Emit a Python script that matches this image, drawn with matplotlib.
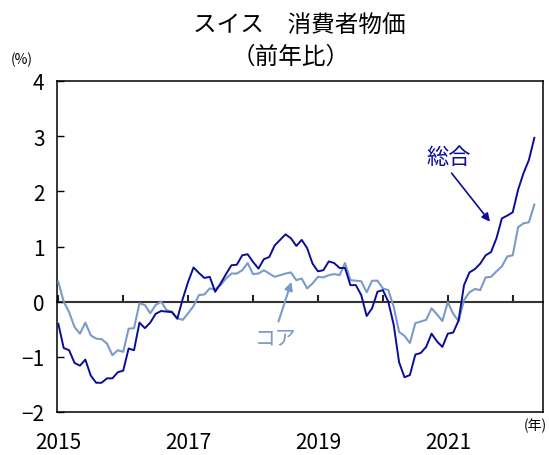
import numpy as np
import pandas as pd
import matplotlib
matplotlib.use("Agg")
import matplotlib.pyplot as plt

plt.rcParams['font.family'] = ['Noto Sans CJK JP', 'DejaVu Sans']

# monthly y/y change, Jan 2015 - May 2022
headline = [
    -0.40, -0.84, -0.88, -1.11, -1.16, -1.05, -1.34, -1.47, -1.47, -1.39, -1.39, -1.28,
    -1.25, -0.85, -0.88, -0.38, -0.48, -0.38, -0.22, -0.17, -0.18, -0.19, -0.31, 0.05,
    0.36, 0.62, 0.52, 0.43, 0.45, 0.18, 0.33, 0.50, 0.66, 0.67, 0.84, 0.86,
    0.72, 0.60, 0.77, 0.81, 1.02, 1.12, 1.22, 1.15, 1.01, 1.12, 0.97, 0.69,
    0.55, 0.57, 0.73, 0.70, 0.61, 0.61, 0.30, 0.30, 0.12, -0.26, -0.12, 0.18,
    0.21, 0.00, -0.42, -1.10, -1.37, -1.33, -0.96, -0.93, -0.82, -0.58, -0.72, -0.82,
    -0.58, -0.56, -0.34, 0.30, 0.53, 0.59, 0.69, 0.84, 0.90, 1.15, 1.51, 1.56,
    1.62, 2.03, 2.33, 2.57, 2.97,
]
core = [
    0.36, 0.00, -0.19, -0.46, -0.58, -0.38, -0.61, -0.67, -0.68, -0.76, -0.97, -0.88,
    -0.91, -0.49, -0.48, -0.03, -0.06, -0.21, -0.06, 0.00, -0.15, -0.18, -0.30, -0.33,
    -0.21, -0.08, 0.12, 0.13, 0.24, 0.22, 0.30, 0.42, 0.51, 0.51, 0.57, 0.70,
    0.50, 0.51, 0.57, 0.51, 0.45, 0.48, 0.51, 0.53, 0.39, 0.42, 0.24, 0.33,
    0.45, 0.44, 0.48, 0.50, 0.48, 0.70, 0.39, 0.38, 0.37, 0.17, 0.38, 0.38,
    0.24, 0.21, -0.09, -0.55, -0.62, -0.75, -0.39, -0.36, -0.33, -0.12, -0.23, -0.35,
    -0.01, -0.22, -0.35, 0.03, 0.17, 0.23, 0.21, 0.44, 0.45, 0.55, 0.64, 0.82,
    0.84, 1.35, 1.42, 1.44, 1.76,
]
months = pd.date_range('2015-01-01', periods=len(headline), freq='MS')
label_years = [2015, 2017, 2019, 2021]

dark = '#0c0c9a'
light = '#7a9bc8'

x = np.arange(len(months))
jan = x[months.month == 1]
jan_years = months.year[months.month == 1]

fig = plt.figure(figsize=(5.49, 4.56), dpi=100)
ax = fig.add_axes([57 / 549, 1 - 413 / 456, 486 / 549, 331 / 456])

ax.plot(x, core, color=light, lw=1.5, zorder=3)
ax.plot(x, headline, color=dark, lw=1.4, zorder=4)

ax.set_xlim(-0.24, 89.6)
ax.set_ylim(-2, 4)
ax.set_yticks(range(-2, 5))
ax.tick_params(axis='y', direction='in', length=5, width=1, pad=9, labelsize=15)

# year labels under the frame, tick marks on the zero line
ax.set_xticks([jan[list(jan_years).index(y)] for y in label_years])
ax.set_xticklabels([str(y) for y in label_years])
ax.tick_params(axis='x', length=0, pad=14, labelsize=15)

zero = ax.secondary_xaxis(0, transform=ax.transData)
zero.set_xticks(jan)
zero.tick_params(axis='x', direction='in', length=5, width=1.5, labelbottom=False,
                 color='#222222')
zero.spines['bottom'].set_linewidth(1.5)
zero.spines['bottom'].set_color('#333333')

for s in ax.spines.values():
    s.set_linewidth(1.1)

fig.text(0.545, 0.945, 'スイス　消費者物価', ha='center', va='center', fontsize=17)
fig.text(0.53, 0.875, '（前年比）', ha='center', va='center', fontsize=17)
fig.text(0.04, 0.868, '(%)', ha='center', va='center', fontsize=10)
ax.text(0.985, -0.04, '(年)', transform=ax.transAxes, ha='center', va='center', fontsize=10)

ax.text(72.2, 2.64, '総合', color=dark, fontsize=16, ha='center', va='center')
ax.annotate('', xy=(79.8, 1.45), xytext=(72.7, 2.33),
            arrowprops=dict(arrowstyle='-|>', color=dark, lw=1.2, mutation_scale=12,
                            shrinkA=0, shrinkB=0))
ax.text(40.2, -0.65, 'コア', color=light, fontsize=15, ha='center', va='center')
ax.annotate('', xy=(43.1, 0.36), xytext=(40.7, -0.36),
            arrowprops=dict(arrowstyle='-|>', color=light, lw=1.5, mutation_scale=12,
                            shrinkA=0, shrinkB=0))

fig.savefig('out.png', dpi=100)
